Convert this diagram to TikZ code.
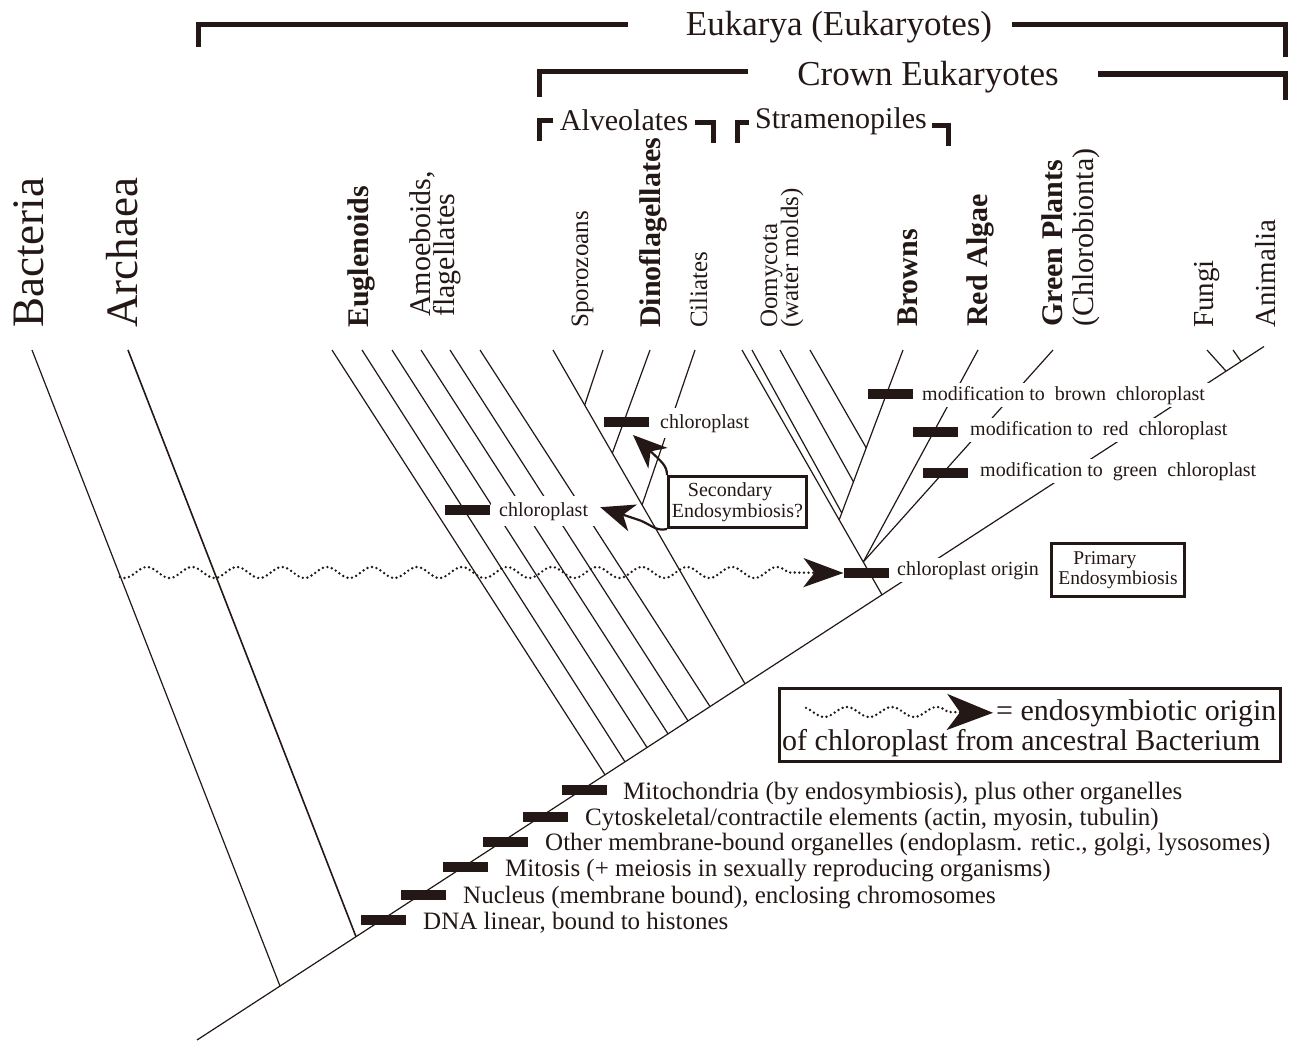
\documentclass[tikz,border=0pt]{standalone}
\usepackage{fontspec}
\setmainfont{Liberation Serif}
\usetikzlibrary{arrows.meta,calc}
\definecolor{ink}{RGB}{35,24,21}
\begin{document}
\begin{tikzpicture}[x=1pt,y=-1pt,color=ink,line join=miter,
  tree/.style={line width=1.2pt},
  brk/.style={line width=5pt},
  bar/.style={fill=ink,minimum width=45pt,minimum height=10pt,inner sep=0pt,outer sep=0pt},
  f45/.style={font=\fontsize{45}{50}\selectfont},
  f35/.style={font=\fontsize{35}{40}\selectfont},
  f30/.style={font=\fontsize{30}{34}\selectfont},
  f30b/.style={font=\fontsize{30}{34}\selectfont\bfseries},
  f29/.style={font=\fontsize{29}{33}\selectfont},
  f25/.style={font=\fontsize{25}{28}\selectfont},
  vlab/.style={rotate=90,anchor=base west,inner sep=0pt},
  lab/.style={font=\fontsize{20}{22}\selectfont,fill=white,inner xsep=4pt,inner ysep=3pt,anchor=base west},
  bt/.style={font=\fontsize{25}{28}\selectfont,anchor=base west,inner sep=0pt},
  box/.style={draw,line width=3pt,fill=white,inner sep=0pt},
  dotwave/.style={line width=2.7pt,line cap=round,dash pattern=on 0pt off 4.6pt},
  sarrow/.style={line width=2.2pt,-{Stealth[length=34pt,width=28pt,inset=10pt]}}
]
\fill[white] (0,0) rectangle (1290,1041);
\useasboundingbox (0,0) rectangle (1290,1041);

% ---------- coordinates ----------
\coordinate (root) at (197,1040);
\coordinate (top)  at (1264,346.5);
\coordinate (jBac) at (280,986.05);
\coordinate (jArc) at (356,936.65);
\coordinate (j1) at (605,774.8);
\coordinate (j2) at (625,761.8);
\coordinate (j3) at (647,747.5);
\coordinate (j4) at (668,733.85);
\coordinate (j5) at (688,720.85);
\coordinate (j6) at (710,706.55);
\coordinate (j7) at (745,683.8);
\coordinate (j8) at (882,594.75);
\coordinate (jF) at (1226,371.15);
\coordinate (jA) at (1241,361.4);

\coordinate (tBac) at (32,350);
\coordinate (tArc) at (128,350);
\coordinate (t1) at (332,350);
\coordinate (t2) at (362,350);
\coordinate (t3) at (392,350);
\coordinate (t4) at (421,350);
\coordinate (t5) at (450,350);
\coordinate (t6) at (480,350);
\coordinate (tS) at (553,350);
\coordinate (tSp) at (603,350);
\coordinate (tDi) at (650,350);
\coordinate (tCi) at (695,350);
\coordinate (tO) at (742,350);
\coordinate (tO1) at (752,350);
\coordinate (tO2) at (780,350);
\coordinate (tO3) at (810,350);
\coordinate (tB) at (903,350);
\coordinate (tR) at (978,350);
\coordinate (tG) at (1053,350);
\coordinate (tF) at (1207,350);
\coordinate (tA) at (1233,350);

\coordinate (aSp) at ($(tS)!0.165!(j7)$);
\coordinate (aDi) at ($(tS)!0.309!(j7)$);
\coordinate (aCi) at ($(tS)!0.464!(j7)$);
\coordinate (aBr) at ($(tO)!0.694!(j8)$);
\coordinate (pJ)  at ($(tO)!0.866!(j8)$);
\coordinate (o1) at ($(tB)!0.959!(aBr)$);
\coordinate (o2) at ($(tB)!0.776!(aBr)$);
\coordinate (o3) at ($(tB)!0.576!(aBr)$);

% ---------- tree ----------
\draw[tree] (root) -- (top);
\draw[tree] (tBac) -- (jBac);
\draw[tree,line width=1.6pt] (tArc) -- (jArc);
\foreach \i in {1,...,6} {\draw[tree] (t\i) -- (j\i);}
\draw[tree] (tS) -- (j7);
\draw[tree] (tSp) -- (aSp);
\draw[tree] (tDi) -- (aDi);
\draw[tree] (tCi) -- (aCi);
\draw[tree] (tO) -- (j8);
\draw[tree] (tB) -- (aBr);
\draw[tree] (tO1) -- (o1);
\draw[tree] (tO2) -- (o2);
\draw[tree] (tO3) -- (o3);
\draw[tree] (tR) -- (pJ);
\draw[tree] (tG) -- (pJ);
\draw[tree] (tF) -- (jF);
\draw[tree] (tA) -- (jA);

% ---------- brackets ----------
\draw[brk] (198,47) -- (198,25) -- (628,25);
\draw[brk] (1012,25) -- (1285,25) -- (1285,57);
\draw[brk] (539,97) -- (539,72) -- (748,72);
\draw[brk] (1098,74) -- (1285,74) -- (1285,100);
\draw[brk] (539,141) -- (539,120) -- (553,120);
\draw[brk] (695,122) -- (713,122) -- (713,143);
\draw[brk] (737,143) -- (737,122) -- (749,122);
\draw[brk] (932,125) -- (948,125) -- (948,146);

\node[f35,anchor=base,inner sep=0pt] (euk) at (839,36) {Eukarya (Eukaryotes)};
\node[f35,anchor=base,inner sep=0pt] (crown) at (928,85) {Crown Eukaryotes};
\node[f30,anchor=base,inner sep=0pt] (alv) at (624,130) {Alveolates};
\node[f30,anchor=base,inner sep=0pt] (stra) at (841,128) {Stramenopiles};

% ---------- vertical labels ----------
\node[vlab,f45] (lBac) at (43,328) {Bacteria};
\node[vlab,f45] (lArc) at (137,328) {Archaea};
\node[vlab,f30b] (lEug) at (368,328) {Euglenoids};
\node[vlab,f30] (lAm1) at (430,317) {Amoeboids,};
\node[vlab,f30] (lAm2) at (454,317) {flagellates};
\node[vlab,f25] (lSpo) at (588,328) {Sporozoans};
\node[vlab,f30b] (lDin) at (660,328) {Dinoflagellates};
\node[vlab,f25] (lCil) at (707,328) {Ciliates};
\node[vlab,f25] (lOo1) at (777,328) {Oomycota};
\node[vlab,f25] (lOo2) at (798,328) {(water molds)};
\node[vlab,f30b] (lBro) at (917,327) {Browns};
\node[vlab,f30b] (lRed) at (987,327) {Red Algae};
\node[vlab,f30b] (lGr1) at (1062,327) {Green Plants};
\node[vlab,f30] (lGr2) at (1093,327) {(Chlorobionta)};
\node[vlab,f29] (lFun) at (1213,328) {Fungi};
\node[vlab,f29] (lAni) at (1275,328) {Animalia};

% ---------- wavy endosymbiosis line ----------
\node[bar] (bOrigin) at (866,573) {};
\coordinate (wStart) at (120,573);
\draw[dotwave,-{Stealth[length=40pt,width=29pt,inset=11pt]}]
  plot[domain=120:788.25,samples=400] (\x,{572.5+5.5*sin(8*\x+174)}) -- (bOrigin.west);

% ---------- small labels ----------
\node[lab,inner ysep=6pt] (tChlU) at (656,428) {chloroplast};
\node[lab,inner ysep=6pt,inner xsep=8pt] (tChlL) at (491,516) {chloroplast};
\node[lab] (tOrig) at (893,575) {chloroplast origin};
\node[lab] (tBrown) at (918,400) {modification to\ \ brown\ \ chloroplast};
\node[lab] (tRed) at (966,435) {modification to\ \ red\ \ chloroplast};
\node[lab] (tGreen) at (976,476) {modification to\ \ green\ \ chloroplast};

% ---------- boxes ----------
\node[box,minimum width=138pt,minimum height=51pt,align=left,font=\fontsize{20}{20.5}\selectfont] (sec) at (737.5,502) {\hspace*{16pt}Secondary\\Endosymbiosis?};
\node[box,minimum width=133pt,minimum height=53pt,align=left,font=\fontsize{19.5}{20}\selectfont] (prim) at (1118,570) {\hspace*{15pt}Primary\\Endosymbiosis};

% ---------- bars ----------
\node[bar] (bChlU) at (626,422) {};
\node[bar] (bChlL) at (467,510) {};
\node[bar] (bBrown) at (890,394) {};
\node[bar] (bRed) at (935,432) {};
\node[bar] (bGreen) at (945,473) {};
\node[bar] (bMito) at (584,790) {};
\node[bar] (bCyto) at (545,817) {};
\node[bar] (bOther) at (505,842) {};
\node[bar] (bMitos) at (465,867) {};
\node[bar] (bNuc) at (423,895) {};
\node[bar] (bDNA) at (383,920) {};

% ---------- secondary arrows ----------
\draw[sarrow] (sec.north west) .. controls (667,466) and (662,462) .. ($(bChlU.south)+(7,8)$);
\draw[sarrow] (sec.south west) .. controls (655,532) and (650,523) .. (636,519) -- ($(tChlL.east)+(4,-4)$);

% ---------- bottom labels ----------
\node[bt] (tMito) at (623,799) {Mitochondria (by endosymbiosis), plus other organelles};
\node[bt] (tCyto) at (585,825) {Cytoskeletal/contractile elements (actin, myosin, tubulin)};
\node[bt] (tOther) at (545,850) {Other membrane-bound organelles (endoplasm. retic., golgi, lysosomes)};
\node[bt] (tMitos) at (505,876) {Mitosis (+ meiosis in sexually reproducing organisms)};
\node[bt] (tNuc) at (463,903) {Nucleus (membrane bound), enclosing chromosomes};
\node[bt] (tDNA) at (423,929) {DNA linear, bound to histones};

% ---------- legend ----------
\node[box,minimum width=501pt,minimum height=73pt] (leg) at (1030,725) {};
\node[f30,anchor=base west,inner sep=0pt] (legt1) at (996,720) {= endosymbiotic origin};
\node[f30,anchor=base west,inner sep=0pt] (legt2) at (782,750) {of chloroplast from ancestral Bacterium};
\draw[dotwave,-{Stealth[length=46pt,width=36pt,inset=13pt]}]
  plot[domain=806:948,samples=120] (\x,{712+5*sin(8*\x-24)}) -- ($(legt1.west)+(-3,0)$);
\end{tikzpicture}
\end{document}
